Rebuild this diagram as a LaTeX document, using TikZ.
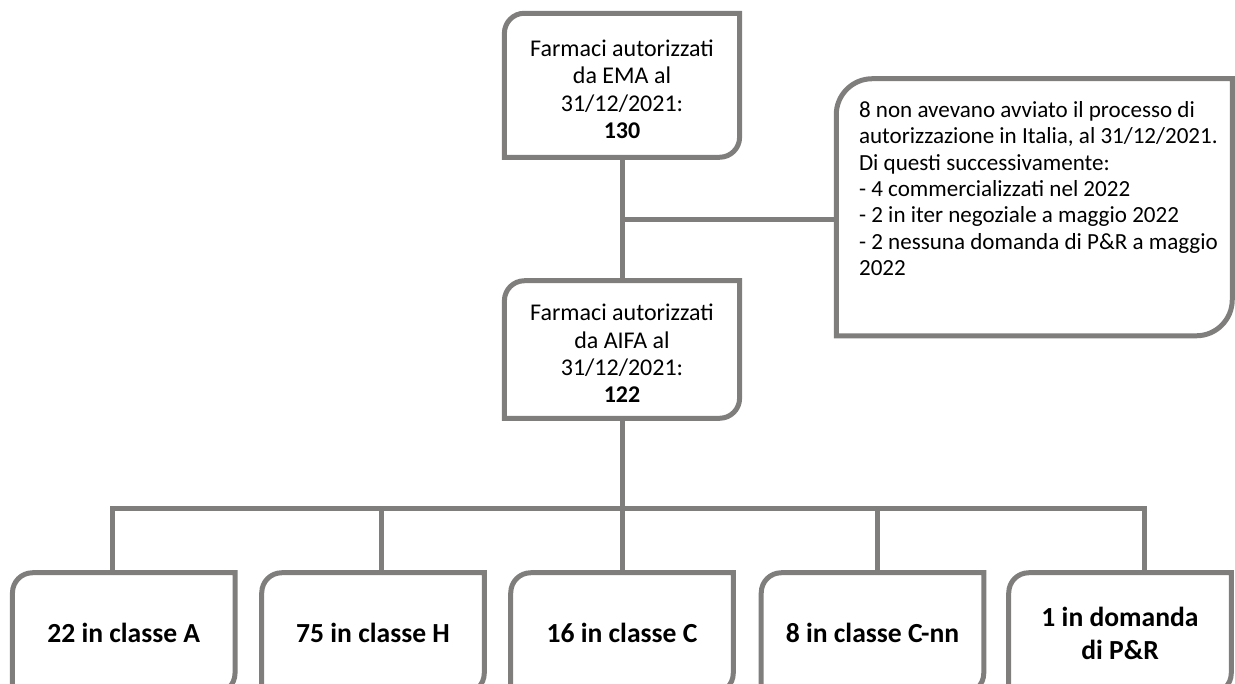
\documentclass[tikz,border=0pt]{standalone}
\usepackage{fontspec}
\setmainfont{Carlito}
\definecolor{framegray}{RGB}{128,125,125}

\newcommand\topfont{\fontsize{18}{20.5}\selectfont}
\newcommand\sidefont{\fontsize{17.3}{19.75}\selectfont}
\newcommand\classfont{\fontsize{20.7}{24.75}\selectfont\bfseries}

\tikzset{
  frameline/.style={draw=framegray, line width=3.75pt},
  box/.style={inner sep=0pt, text=black}
}

% outline with round top-left and bottom-right corners
\newcommand\diagframe[2]{%
  \draw[frameline] ([xshift=#2]#1.north west) -- (#1.north east) -- ([yshift=#2]#1.south east)
    arc[start angle=0, end angle=-90, radius=#2] -- (#1.south west) -- ([yshift=-#2]#1.north west)
    arc[start angle=180, end angle=90, radius=#2] -- cycle;}

\begin{document}
\begin{tikzpicture}[x=0.75pt, y=-0.75pt]

\useasboundingbox (0,0) rectangle (1235,683);

\node[box] (ema) at (622,85.25) {\parbox[c][107.6pt][c]{176pt}{\topfont\centering
  \rule{0pt}{18.6pt}Farmaci autorizzati\\ da EMA al\\ 31/12/2021:\\ \textbf{130}}};
\node[box] (aifa) at (622,349.5) {\parbox[c][102.75pt][c]{176pt}{\topfont\centering
  \rule{0pt}{18.6pt}Farmaci autorizzati\\ da AIFA al\\ 31/12/2021:\\ \textbf{122}}};
\node[box] (side) at (1034.25,207.25) {\parbox[c][192.4pt][c]{296.6pt}{\sidefont\hspace*{16.9pt}%
  \begin{tabular}{@{}l@{}}
  8 non avevano avviato il processo di\\ autorizzazione in Italia, al 31/12/2021.\\
  Di questi successivamente:\\ - 4 commercializzati nel 2022\\ - 2 in iter negoziale a maggio 2022\\
  - 2 nessuna domanda di P\&R a maggio\\ 2022
  \end{tabular}\par\vspace*{24pt}}};

\node[box] (c1) at (123.75,633) {\parbox[c][90pt][c]{166.5pt}{\classfont\centering 22 in classe A}};
\node[box] (c2) at (373,633) {\parbox[c][90pt][c]{166.5pt}{\classfont\centering 75 in classe H}};
\node[box] (c3) at (622,633) {\parbox[c][90pt][c]{166.5pt}{\classfont\centering 16 in classe C}};
\node[box] (c4) at (872.5,633) {\parbox[c][90pt][c]{166.5pt}{\classfont\centering 8 in classe C-nn}};
\node[box] (c5) at (1120,633) {\parbox[c][90pt][c]{166.5pt}{\classfont\centering 1 in domanda\\ di P\&R}};

% frames
\diagframe{ema}{15pt}
\diagframe{aifa}{15pt}
\diagframe{side}{27pt}
\foreach \n in {c1,c2,c3,c4,c5}
  \diagframe{\n}{15pt};

% connectors
\coordinate (fork) at (622,219);
\coordinate (bus) at (622,508);
\draw[frameline] (ema.south) -- (aifa.north);
\draw[frameline] (fork) -- (fork -| side.west);
\draw[frameline] (aifa.south) -- (bus);
\foreach \n/\dx in {c1/-8.8,c2/6.5,c3/0,c4/4.1,c5/18}
  \draw[frameline] ([xshift=\dx pt]\n.north) |- (bus);

\end{tikzpicture}
\end{document}
